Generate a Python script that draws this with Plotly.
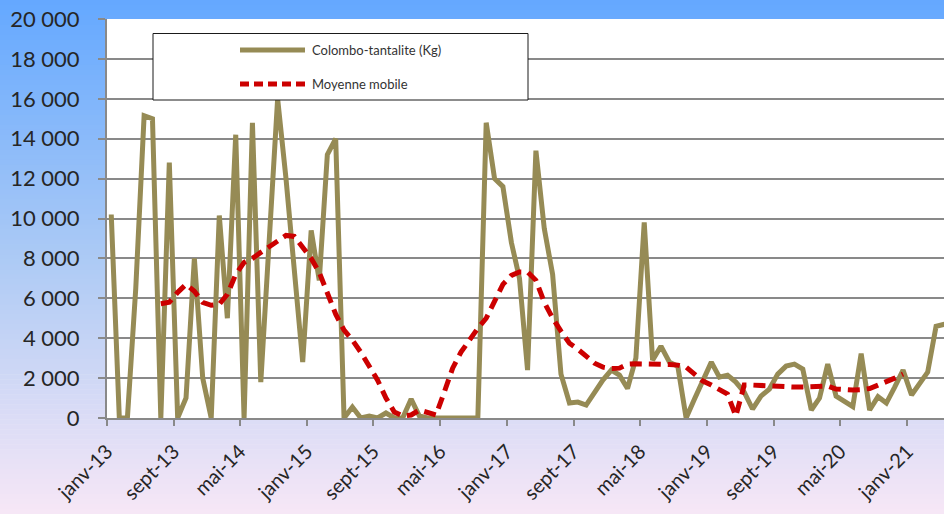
import plotly.graph_objects as go
import pandas as pd

# ---------------- data ----------------
start_month = "2013-01-01"
n_months = 101
months = pd.date_range(start_month, periods=n_months, freq="MS")

colombo_tantalite = [
    10200, 0, 0, 6500, 15150, 15000, 0, 12800, 0, 1000,
    8000, 2000, 0, 10150, 5000, 14200, 0, 14800, 1800, 9000,
    16000, 12000, 7500, 2800, 9400, 6900, 13200, 14000, 0, 550,
    0, 100, 0, 250, 0, 0, 950, 100, 0, 0,
    0, 0, 0, 0, 0, 14800, 12000, 11600, 8800, 7000,
    2400, 13400, 9500, 7200, 2200, 750, 800, 650, 1300, 1900,
    2400, 2150, 1480, 3000, 9800, 2900, 3600, 2800, 2600, 0,
    950, 1900, 2800, 2050, 2150, 1800, 1300, 450, 1100, 1450,
    2200, 2600, 2700, 2450, 400, 1000, 2700, 1100, 800, 570,
    3230, 400, 1070, 750, 1550, 2400, 1150, 1700, 2300, 4600,
    4700,
]

moyenne_mobile = [None] * 6 + [
    5730, 5800, 6300, 6700, 6350, 5800, 5650, 5700, 6200, 7200,
    7800, 8000, 8300, 8600, 8900, 9150, 9100, 8600, 8000, 7300,
    6300, 5200, 4400, 3900, 3300, 2600, 1900, 1000, 300, 100,
    150, 400, 250, 150, 1300, 2500, 3300, 3950, 4500, 5000,
    5800, 6700, 7150, 7320, 7320, 6900, 5800, 5000, 4350, 3750,
    3450, 3100, 2750, 2550, 2480, 2500, 2700, 2720, 2720, 2700,
    2700, 2680, 2650, 2550, 2200, 1850, 1650, 1450, 1200, 100,
    1650, 1650, 1620, 1580, 1570, 1560, 1550, 1560, 1580, 1620,
    1600, 1450, 1400, 1400, 1420, 1480, 1650, 1800, 2000, 2200,
] + [None] * 5

tick_dates = ["2013-01-01", "2013-09-01", "2014-05-01", "2015-01-01", "2015-09-01",
              "2016-05-01", "2017-01-01", "2017-09-01", "2018-05-01", "2019-01-01",
              "2019-09-01", "2020-05-01", "2021-01-01"]
tick_labels = ["janv-13", "sept-13", "mai-14", "janv-15", "sept-15", "mai-16",
               "janv-17", "sept-17", "mai-18", "janv-19", "sept-19", "mai-20", "janv-21"]
y_ticks = list(range(0, 20001, 2000))

series_names = ["Colombo-tantalite (Kg)", "Moyenne mobile"]

# ---------------- layout geometry ----------------
W, H = 944, 514
L, R, T, B = 107, 0, 19, 96
PW, PH = W - L - R, H - T - B

def px2x(px):
    return (px - L) / PW

def px2y(py):
    return (H - B - py) / PH

OLIVE = "#968B55"
RED = "#CC0000"
GRID = "#898989"
FONT = "Lato"

fig = go.Figure()
fig.add_trace(go.Scatter(
    x=months, y=colombo_tantalite, name=series_names[0], mode="lines",
    xperiod="M1", xperiodalignment="middle",
    line=dict(color=OLIVE, width=5), showlegend=False,
))
fig.add_trace(go.Scatter(
    x=months, y=moyenne_mobile, name=series_names[1], mode="lines",
    xperiod="M1", xperiodalignment="middle",
    line=dict(color=RED, width=5, dash="12px,7px"), showlegend=False,
))

# ---------------- background gradient ----------------
stops = [(0.0, (100, 168, 255)), (0.5, (172, 202, 245)), (1.0, (247, 231, 246))]

def grad(t):
    for (t0, c0), (t1, c1) in zip(stops[:-1], stops[1:]):
        if t <= t1:
            f = (t - t0) / (t1 - t0)
            return "rgb(%d,%d,%d)" % tuple(round(a + (b - a) * f) for a, b in zip(c0, c1))
    return "rgb(%d,%d,%d)" % stops[-1][1]

shapes = []
N = 103
for k in range(N):
    y0 = k * H / N
    y1 = (k + 1) * H / N + 0.6
    shapes.append(dict(type="rect", xref="paper", yref="paper", layer="below",
                       x0=px2x(0), x1=px2x(W), y0=px2y(y0), y1=px2y(y1),
                       fillcolor=grad((k + 0.5) / N), line=dict(width=0)))
# white plot area
shapes.append(dict(type="rect", xref="paper", yref="paper", layer="below",
                   x0=0, x1=1, y0=0, y1=1, fillcolor="white", line=dict(width=0)))

# ---------------- legend box (drawn) ----------------
shapes.append(dict(type="rect", xref="paper", yref="paper", layer="above",
                   x0=px2x(153), x1=px2x(528), y0=px2y(100), y1=px2y(33.5),
                   fillcolor="white", line=dict(color="#1a1a1a", width=1)))
shapes.append(dict(type="line", xref="paper", yref="paper", layer="above",
                   x0=px2x(240), x1=px2x(305), y0=px2y(50), y1=px2y(50),
                   line=dict(color=OLIVE, width=5)))
shapes.append(dict(type="line", xref="paper", yref="paper", layer="above",
                   x0=px2x(240), x1=px2x(305), y0=px2y(84), y1=px2y(84),
                   line=dict(color=RED, width=5, dash="9px,5px")))

annotations = [
    dict(xref="paper", yref="paper", x=px2x(310), y=px2y(50), text=series_names[0],
         showarrow=False, xanchor="left", yanchor="middle",
         font=dict(family=FONT, size=13, color="#333333")),
    dict(xref="paper", yref="paper", x=px2x(310), y=px2y(84), text=series_names[1],
         showarrow=False, xanchor="left", yanchor="middle",
         font=dict(family=FONT, size=13, color="#333333")),
]

fig.update_layout(
    template="none",
    width=W, height=H,
    margin=dict(l=L, r=R, t=T, b=B, pad=0),
    paper_bgcolor="rgba(0,0,0,0)",
    plot_bgcolor="white",
    separators=", ",
    shapes=shapes,
    annotations=annotations,
    showlegend=False,
    xaxis=dict(
        type="date",
        range=["2013-01-01", "2021-05-15"],
        tickvals=tick_dates, ticktext=tick_labels,
        tickangle=-45,
        ticks="outside", ticklen=6, tickcolor=GRID, tickwidth=1.5,
        showline=True, linecolor=GRID, linewidth=2,
        showgrid=False, zeroline=False, automargin=False,
        ticklabelstandoff=6,
        tickfont=dict(family=FONT, size=20, color="#262626"),
    ),
    yaxis=dict(
        range=[0, 20000],
        tickvals=y_ticks, tickformat=",d",
        ticks="outside", ticklen=7, tickcolor=GRID, tickwidth=1.5,
        showline=True, linecolor=GRID, linewidth=2,
        showgrid=True, gridcolor=GRID, gridwidth=1.8,
        zeroline=False, automargin=False,
        ticklabelstandoff=14,
        tickfont=dict(family=FONT, size=22, color="#262626"),
    ),
)

fig.write_html("out.html",
               config={"displayModeBar": False},
               post_script="document.body.style.margin='0px';document.body.style.overflow='hidden';")
